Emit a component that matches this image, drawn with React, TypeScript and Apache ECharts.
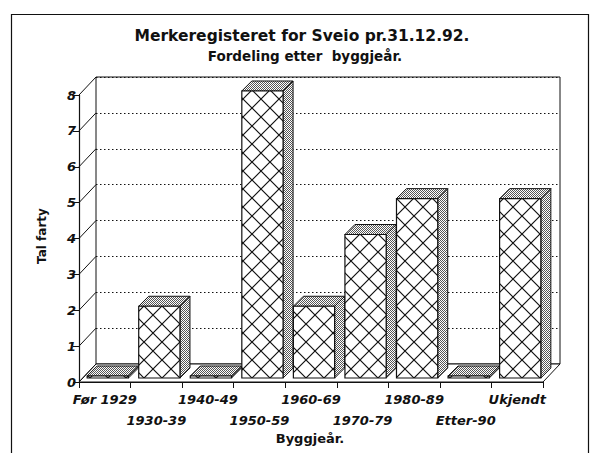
import React, { useEffect, useRef } from 'react';
import * as echarts from 'echarts';

const categories = ['Før 1929', '1930-39', '1940-49', '1950-59', '1960-69', '1970-79', '1980-89', 'Etter-90', 'Ukjendt'];
const values = [0, 2, 0, 8, 2, 4, 5, 0, 5];
const yTicks = [0, 1, 2, 3, 4, 5, 6, 7, 8];
const titleText = 'Merkeregisteret for Sveio pr.31.12.92.';
const subtitleText = 'Fordeling etter  byggjeår.';
const xName = 'Byggjeår.';
const yName = 'Tal farty';

const DX = 17; // depth of walls
const DY = 18;
const BX = 10; // depth of bars
const BY = 10;
const OX = 3; // bar offset into floor
const OY = 4;
const INK = '#111';
const FONT = '"DejaVu Sans", "Liberation Sans", sans-serif';
const HATCH = 18;

function makeHatch(): HTMLCanvasElement {
  const s = HATCH;
  const c = document.createElement('canvas');
  c.width = s;
  c.height = s;
  const g = c.getContext('2d')!;
  g.fillStyle = '#fff';
  g.fillRect(0, 0, s, s);
  g.strokeStyle = INK;
  g.lineWidth = 1.2;
  g.beginPath();
  g.moveTo(-1, -1);
  g.lineTo(s + 1, s + 1);
  g.moveTo(s + 1, -1);
  g.lineTo(-1, s + 1);
  g.stroke();
  return c;
}

function makeDots(): HTMLCanvasElement {
  const s = 2;
  const c = document.createElement('canvas');
  c.width = s;
  c.height = s;
  const g = c.getContext('2d')!;
  g.fillStyle = '#fff';
  g.fillRect(0, 0, s, s);
  g.fillStyle = '#555';
  g.fillRect(0, 0, 1, 1);
  g.fillRect(1, 1, 1, 1);
  return c;
}

export default function App() {
  const ref = useRef<HTMLDivElement>(null);
  useEffect(() => {
    if (!ref.current) return;
    const chart = echarts.init(ref.current, null, { renderer: 'svg' });
    const hatch = makeHatch();
    const dots = makeDots();
    const hatchFill: any = { image: hatch, repeat: 'repeat', imageWidth: HATCH, imageHeight: HATCH };
    const dotFill: any = { image: dots, repeat: 'repeat', imageWidth: 2, imageHeight: 2 };

    const option: any = {
      animation: false,
      backgroundColor: '#fff',
      textStyle: { fontFamily: FONT },
      grid: [
        { left: 79, right: 49, top: 95, bottom: 71, containLabel: false },
        {
          left: 79 + DX, right: 49 - DX, top: 95 - DY, bottom: 71 + DY,
          show: true, borderColor: INK, borderWidth: 1, backgroundColor: 'transparent', z: 0,
        },
      ],
      xAxis: [
        {
          type: 'category', gridIndex: 0, data: categories,
          axisLine: { lineStyle: { color: INK, width: 1.2 } },
          axisTick: { show: true, length: 6, lineStyle: { color: INK } },
          axisLabel: {
            interval: 0, margin: 7, color: INK, fontFamily: FONT, fontSize: 13,
            fontWeight: 'bold', fontStyle: 'italic', lineHeight: 21,
            formatter: (v: string, i: number) => (i % 2 === 1 ? '\n' + v : v),
          },
          splitLine: { show: false },
        },
        { type: 'category', gridIndex: 1, data: categories, show: false },
      ],
      yAxis: [
        {
          type: 'value', gridIndex: 0, min: 0, max: 8, interval: 1,
          axisLine: { show: true, lineStyle: { color: INK, width: 1.2 } },
          axisTick: { show: true, length: 6, lineStyle: { color: INK } },
          axisLabel: {
            margin: 3, color: INK, fontFamily: FONT, fontSize: 13,
            fontWeight: 'bold', fontStyle: 'italic',
            formatter: (v: number) => (yTicks.indexOf(v) >= 0 ? String(v) : ''),
          },
          splitLine: { show: false },
        },
        {
          type: 'value', gridIndex: 1, min: 0, max: 8, interval: 1,
          axisLine: { show: false }, axisTick: { show: false }, axisLabel: { show: false },
          splitLine: { show: true, lineStyle: { color: INK, width: 1, type: [1.5, 2.5] } },
        },
      ],
      graphic: [
        {
          type: 'rect', shape: { x: 11.5, y: 14.5, width: 577, height: 460 },
          style: { fill: 'none', stroke: INK, lineWidth: 1.2 }, z: -1, silent: true,
        },
        {
          type: 'text', x: 302, y: 36,
          style: { text: titleText, fill: INK, font: `bold 15.5px ${FONT}`, align: 'center', verticalAlign: 'middle' },
        },
        {
          type: 'text', x: 305, y: 56,
          style: { text: subtitleText, fill: INK, font: `bold 13.5px ${FONT}`, align: 'center', verticalAlign: 'middle' },
        },
        {
          type: 'text', x: 310, y: 438,
          style: { text: xName, fill: INK, font: `bold 13px ${FONT}`, align: 'center', verticalAlign: 'middle' },
        },
        {
          type: 'text', x: 42, y: 236, rotation: Math.PI / 2,
          style: { text: yName, fill: INK, font: `bold 12px ${FONT}`, align: 'center', verticalAlign: 'middle' },
        },
      ],
      series: [
        {
          type: 'custom', xAxisIndex: 0, yAxisIndex: 0, z: 1, silent: true,
          data: [[0, 0]],
          renderItem: (_p: any, api: any) => {
            const bw = api.size([1, 0])[0];
            const p0 = api.coord([0, 0]);
            const pEnd = api.coord([categories.length - 1, 0]);
            const x0 = p0[0] - bw / 2;
            const x1 = pEnd[0] + bw / 2;
            const y0 = p0[1];
            const children: any[] = [
              {
                type: 'polygon',
                shape: { points: [[x0, y0], [x1, y0], [x1 + DX, y0 - DY], [x0 + DX, y0 - DY]] },
                style: { fill: '#fff', stroke: INK, lineWidth: 1 },
              },
            ];
            yTicks.forEach((v) => {
              const y = api.coord([0, v])[1];
              children.push({
                type: 'line',
                shape: { x1: x0, y1: y, x2: x0 + DX, y2: y - DY },
                style: { stroke: INK, lineWidth: 1 },
              });
            });
            return { type: 'group', children };
          },
        },
        {
          type: 'custom', xAxisIndex: 0, yAxisIndex: 0, z: 3, silent: true,
          data: values.map((v, i) => [i, v]),
          renderItem: (_p: any, api: any) => {
            const i = api.value(0);
            const v = api.value(1);
            const base = api.coord([i, 0]);
            const top = api.coord([i, v]);
            const bw = api.size([1, 0])[0];
            const w = bw * 0.8;
            const xl = base[0] - w / 2 + OX;
            const xr = xl + w;
            const yb = base[1] - OY;
            let yt = top[1] - OY;
            if (yb - yt < 2) yt = yb - 2;
            return {
              type: 'group',
              children: [
                {
                  type: 'polygon',
                  shape: { points: [[xr, yb], [xr + BX, yb - BY], [xr + BX, yt - BY], [xr, yt]] },
                  style: { fill: dotFill, stroke: INK, lineWidth: 1 },
                },
                {
                  type: 'polygon',
                  shape: { points: [[xl, yt], [xr, yt], [xr + BX, yt - BY], [xl + BX, yt - BY]] },
                  style: { fill: dotFill, stroke: INK, lineWidth: 1 },
                },
                {
                  type: 'rect',
                  shape: { x: xl, y: yt, width: w, height: yb - yt },
                  style: { fill: hatchFill, stroke: INK, lineWidth: 1.2 },
                },
              ],
            };
          },
        },
      ],
    };
    chart.setOption(option);
    return () => chart.dispose();
  }, []);
  return (
    <div
      ref={ref}
      style={{ position: 'absolute', left: 0, top: 0, width: 592, height: 453, background: '#fff' }}
    />
  );
}
